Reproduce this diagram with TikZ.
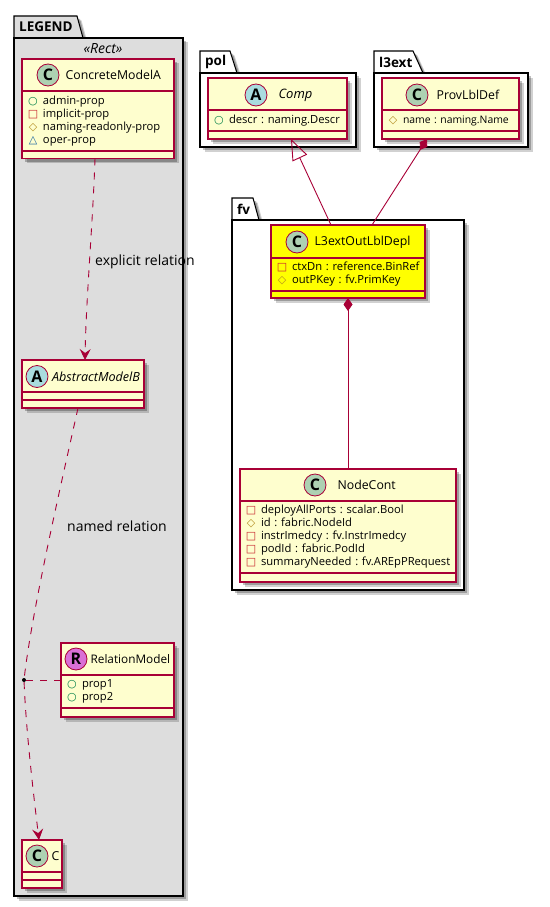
\documentclass[tikz,border=0pt]{standalone}
\usepackage{fontspec}
\setmainfont{Open Sans}
\newfontfamily\markfont{DejaVu Sans}
\usetikzlibrary{arrows.meta, positioning, shadows}
\definecolor{umlline}{HTML}{A80036}
\definecolor{umlfill}{HTML}{FEFECE}
\definecolor{umlgray}{HTML}{DDDDDD}
\definecolor{umlyellow}{HTML}{FFFF00}
\definecolor{badgec}{HTML}{ADD1B2}
\definecolor{badgea}{HTML}{A9DCDF}
\definecolor{badger}{HTML}{DA70D6}
\definecolor{pubcol}{HTML}{038048}
\definecolor{privcol}{HTML}{C82930}
\definecolor{protcol}{HTML}{B38D22}
\definecolor{pkgcol}{HTML}{1963A0}
\newcommand{\memmark}[2]{\hspace*{4pt}\makebox[16pt][l]{\makebox[12pt][c]{\markfont\fontsize{11}{13}\selectfont\color{#1}#2}}}
\newcommand{\mpub}{\memmark{pubcol}{○}}
\newcommand{\mpriv}{\memmark{privcol}{□}}
\newcommand{\mprot}{\memmark{protcol}{◇}}
\newcommand{\mpack}{\memmark{pkgcol}{△}}

\begin{document}
\begin{tikzpicture}[
    x=1pt, y=-1pt,
    softshadow/.style={drop shadow={shadow xshift=4.5pt, shadow yshift=-4.5pt, fill=black, opacity=0.18},
        drop shadow={shadow xshift=3pt, shadow yshift=-3pt, fill=black, opacity=0.25}},
    pkg/.style={rectangle, draw=black, line width=1.05pt, fill=white, softshadow, outer sep=0pt, inner sep=0pt},
    pkgtab/.style={draw=black, line width=1.05pt, fill=white, softshadow},
    pkgname/.style={anchor=west, inner sep=0pt, font=\fontsize{13.5}{15}\selectfont\bfseries},
    box/.style={rectangle, draw=umlline, line width=1.05pt, fill=umlfill, softshadow, outer sep=0pt, inner sep=0pt},
    head/.style={box, minimum width=#1},
    mem/.style={box, align=left, inner xsep=1pt, font=\fontsize{11.2}{13}\selectfont, execute at begin node={\frenchspacing\hyphenpenalty=10000}},
    foot/.style={box, minimum width=#1, minimum height=7.5pt},
    badge/.style={circle, draw=umlline, line width=0.8pt, minimum size=22pt, inner sep=0pt, font=\fontsize{16}{16}\selectfont\bfseries},
    cname/.style={inner sep=0pt, font=\fontsize{12.3}{15}\selectfont},
    rel/.style={draw=umlline, line width=0.9pt},
    dep/.style={rel, dash pattern=on 7pt off 7pt},
    opentip/.style={-{Stealth[length=11pt, width=11pt, inset=4pt]}},
    lbl/.style={anchor=west, inner sep=0pt, font=\fontsize{14}{15}\selectfont}
]
\useasboundingbox (0,0) rectangle (549,907);

% LEGEND
\draw[pkgtab, fill=umlgray] (14,38) -- (14,16) -- (77,16) -- (83,38) -- cycle;
\node[pkgname] (legendname) at (19,27) {LEGEND};
\node[pkg, fill=umlgray, minimum width=169pt, minimum height=858pt] (legend) at (98.5,467) {};
\node[cname, font=\fontsize{14}{15}\selectfont\itshape] (rectname) at (103,49) {«Rect»};

\node[head=152pt, minimum height=32pt] (concretehead) at (98,75) {};
\node[mem, below=0pt of concretehead, text width=150pt, minimum height=60pt] (concretemem)
    {\mpub admin-prop\\\mpriv implicit-prop\\\mprot naming-readonly-prop\\\mpack oper-prop};
\node[foot=152pt, below=0pt of concretemem] (concretefoot) {};
\node[badge, fill=badgec] (concretebadge) at (48,75) {C};
\node[cname, right=6pt of concretebadge] (concretename) {ConcreteModelA};

\node[head=122pt, minimum height=32pt] (abstracthead) at (83,376) {};
\node[foot=122pt, below=0pt of abstracthead, minimum height=8pt] (abstractmem) {};
\node[foot=122pt, below=0pt of abstractmem, minimum height=8pt] (abstractfoot) {};
\node[badge, fill=badgea] (abstractbadge) at (37,376.5) {A};
\node[cname, right=3.5pt of abstractbadge, font=\fontsize{12.6}{15}\selectfont\itshape] (abstractname) {AbstractModelB};

\node[head=113pt, minimum height=32pt] (relationhead) at (117.5,659) {};
\node[mem, below=0pt of relationhead, text width=111pt, minimum height=33pt] (relationmem)
    {\mpub prop1\\\mpub prop2};
\node[foot=113pt, below=0pt of relationmem, minimum height=9pt] (relationfoot) {};
\node[badge, fill=badger] (relationbadge) at (76,659) {R};
\node[cname, right=3pt of relationbadge, font=\fontsize{11.8}{15}\selectfont] (relationname) {RelationModel};

\node[head=40pt, minimum height=32pt] (chead) at (42,856) {};
\node[foot=40pt, below=0pt of chead, minimum height=8pt] (cmem) {};
\node[foot=40pt, below=0pt of cmem, minimum height=8pt] (cfoot) {};
\node[badge, fill=badgec] (cbadge) at (37,856) {C};
\node[cname, right=3pt of cbadge] (cname) {C};

\node[circle, fill=black, inner sep=0pt, minimum size=4pt] (assocdot) at (24,680) {};

% pol
\draw[pkgtab] (200,73) -- (200,51) -- (230,51) -- (237,73) -- cycle;
\node[pkgname] (polname) at (205,62) {pol};
\node[pkg, minimum width=156pt, minimum height=74pt] (pol) at (278,110) {};
\node[head=139pt, minimum height=32pt] (comphead) at (277.5,94) {};
\node[mem, below=0pt of comphead, text width=137pt, minimum height=21pt] (compmem)
    {\mpub \mbox{descr : naming.Descr}};
\node[foot=139pt, below=0pt of compmem, minimum height=8pt] (compfoot) {};
\node[badge, fill=badgea] (compbadge) at (256,95) {A};
\node[cname, right=11pt of compbadge, font=\fontsize{13}{15}\selectfont\itshape] (compname) {Comp};

% l3ext
\draw[pkgtab] (374,73) -- (374,51) -- (413,51) -- (423,73) -- cycle;
\node[pkgname] (l3extname) at (379,62) {l3ext};
\node[pkg, minimum width=154pt, minimum height=74pt] (l3ext) at (451,110) {};
\node[head=137pt, minimum height=32pt] (provhead) at (450.5,94) {};
\node[mem, below=0pt of provhead, text width=135pt, minimum height=21pt, font=\fontsize{10.4}{13}\selectfont] (provmem)
    {\mprot \mbox{name : naming.Name}};
\node[foot=137pt, below=0pt of provmem, minimum height=8pt] (provfoot) {};
\node[badge, fill=badgec] (provbadge) at (417,95) {C};
\node[cname, right=8pt of provbadge] (provname) {ProvLblDef};

% fv
\draw[pkgtab] (232,220) -- (232,198) -- (253,198) -- (259,220) -- cycle;
\node[pkgname] (fvname) at (237,209) {fv};
\node[pkg, minimum width=232pt, minimum height=370pt] (fv) at (348,405) {};
\node[head=154pt, minimum height=33pt, fill=umlyellow] (deplhead) at (348,241.5) {};
\node[mem, fill=umlyellow, below=0pt of deplhead, text width=152pt, minimum height=33pt] (deplmem)
    {\mpriv \mbox{ctxDn : reference.BinRef}\\\mprot \mbox{outPKey : fv.PrimKey}};
\node[foot=154pt, fill=umlyellow, below=0pt of deplmem, minimum height=7pt] (deplfoot) {};
\node[badge, fill=badgec] (deplbadge) at (297,242) {C};
\node[cname, right=6pt of deplbadge] (deplname) {L3extOutLblDepl};

\node[head=216pt, minimum height=32pt] (nodehead) at (348,485) {};
\node[mem, below=0pt of nodehead, text width=214pt, minimum height=72pt] (nodemem)
    {\mpriv deployAllPorts : scalar.Bool\\\mprot id : fabric.NodeId\\\mpriv instrImedcy : fv.InstrImedcy\\\mpriv podId : fabric.PodId\\\mpriv \mbox{summaryNeeded : fv.AREpPRequest}};
\node[foot=216pt, below=0pt of nodemem, minimum height=9pt] (nodefoot) {};
\node[badge, fill=badgec] (nodebadge) at (315,485) {C};
\node[cname, right=11pt of nodebadge] (nodename) {NodeCont};

% relations
\draw[dep, opentip] ([xshift=-3pt]concretefoot.south) .. controls (93,220) and (86,300) .. ([xshift=2pt]abstracthead.north);
\draw[dep] ([xshift=-5pt]abstractfoot.south) .. controls (62,480) and (32,610) .. (assocdot);
\draw[dep, opentip] (assocdot) .. controls (26,730) and (33,790) .. ([xshift=-3pt]chead.north);
\draw[dep] (assocdot) -- (assocdot -| relationmem.west);
\draw[rel, -{Triangle[open, length=21pt, width=16pt]}] ([xshift=-17pt]deplhead.north) -- ([xshift=13.5pt]compfoot.south);
\draw[rel, -{Diamond[length=13pt, width=9pt]}] ([xshift=24pt]deplhead.north) -- ([xshift=-23.5pt]provfoot.south);
\draw[rel, {Diamond[length=13pt, width=9pt]}-] (deplfoot.south) -- (nodehead.north);

\node[lbl] (explicitlbl) at (95,262) {explicit relation};
\node[lbl] (namedlbl) at (67,526) {named relation};

\end{tikzpicture}
\end{document}
